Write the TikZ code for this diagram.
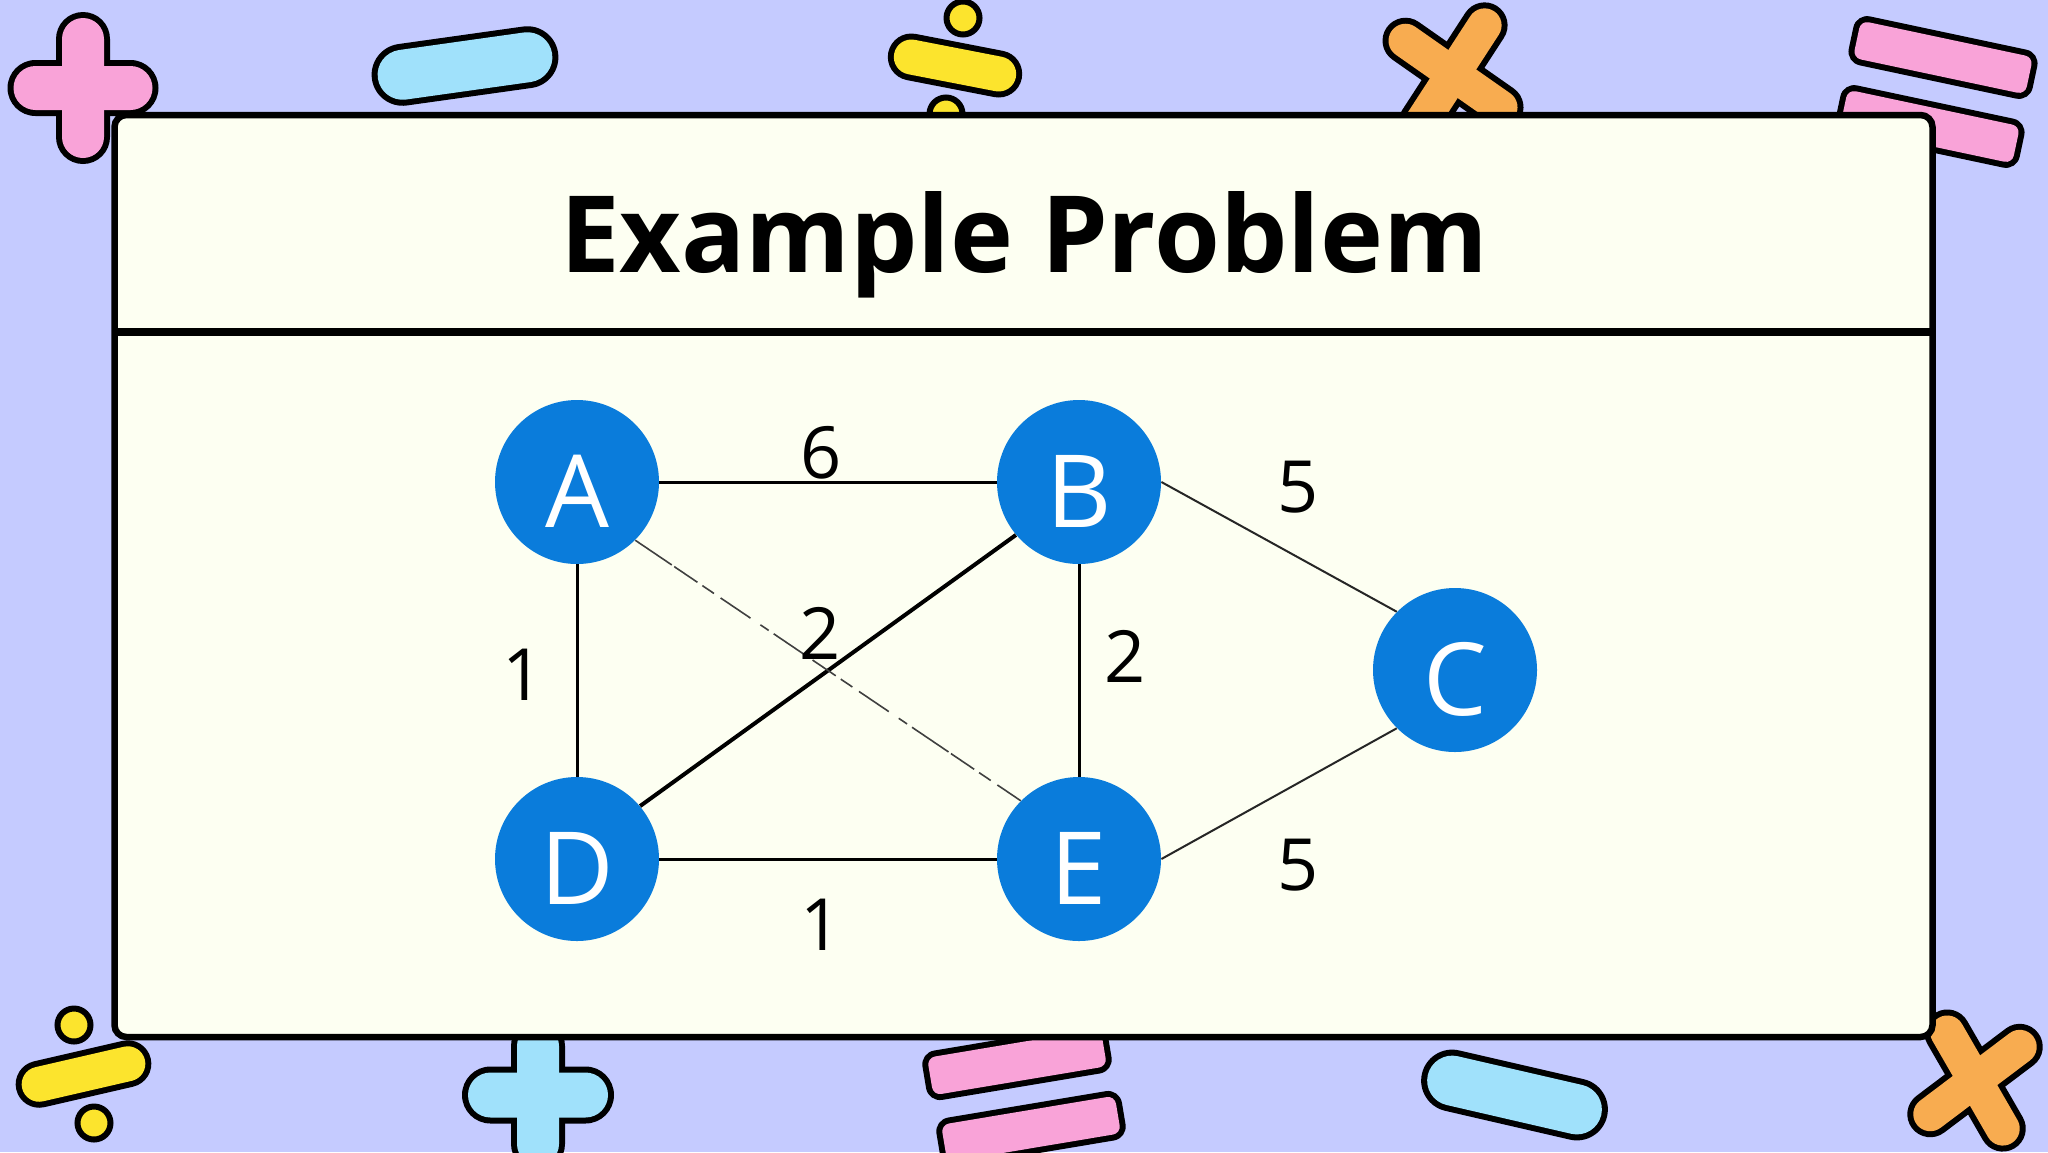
\documentclass[tikz,border=0pt]{standalone}
\usepackage{fontspec}
\setmainfont{Open Sans}
\definecolor{bgc}{HTML}{C5CBFF}
\definecolor{panelc}{HTML}{FDFFF2}
\definecolor{pinkc}{HTML}{F9A3D8}
\definecolor{skyc}{HTML}{A0E1FB}
\definecolor{yellowc}{HTML}{FCE42D}
\definecolor{orangec}{HTML}{F8AC50}
\definecolor{bluec}{HTML}{0A7CDB}
% outer silhouette (black) of a rounded bar: cx, cy, length, width, angle, radius
\newcommand\barblack[6]{\begin{scope}[shift={(#1,#2)},rotate=#5]
  \fill[black,rounded corners=#6*0.5pt] (-#3/2,-#4/2) rectangle (#3/2,#4/2);\end{scope}}
% inner fill of the same bar: colour comes last
\newcommand\barfill[7]{\begin{scope}[shift={(#1,#2)},rotate=#5]
  \fill[#7,rounded corners=(#6-6)*0.5pt] (-#3/2+6,-#4/2+6) rectangle (#3/2-6,#4/2-6);\end{scope}}
\newcommand\onebar[7]{\barblack{#1}{#2}{#3}{#4}{#5}{#6}\barfill{#1}{#2}{#3}{#4}{#5}{#6}{#7}}
% two crossing bars with a merged interior
\newcommand\crossbars[9]{% cx cy L1 W1 ang1 L2 W2 ang2 colour
  \barblack{#1}{#2}{#3}{#4}{#5}{#4/2}\barblack{#1}{#2}{#6}{#7}{#8}{#7/2}
  \barfill{#1}{#2}{#3}{#4}{#5}{#4/2}{#9}\barfill{#1}{#2}{#6}{#7}{#8}{#7/2}{#9}}
\tikzset{
  x=0.5pt,y=-0.5pt,
  dot/.style={draw=black,line width=3pt,fill=yellowc},
  vertex/.style={circle,fill=bluec,minimum size=82pt,inner sep=0pt,text=white,
    font=\fontsize{50.5pt}{50.5pt}\selectfont,text height=45pt,text depth=0pt},
  edge/.style={line width=1.5pt,black},
  thinedge/.style={line width=1pt,black!85},
  brokenedge/.style={line width=0.8pt,black!75,dash pattern=on 22pt off 1.5pt on 14pt off 3pt on 7pt off 4pt on 18pt off 6pt on 5pt off 3pt},
  weight/.style={font=\fontsize{36pt}{36pt}\selectfont,text=black,inner sep=0pt},
  panelbox/.style={draw=black,line width=3.25pt,fill=panelc,rounded corners=6pt},
}
\begin{document}
\begin{tikzpicture}
\useasboundingbox (0,0) rectangle (2048,1152);
\fill[bgc] (0,0) rectangle (2048,1152);
% decorations, top
\crossbars{83}{88}{152}{54}{90}{151}{56}{0}{pinkc}
\onebar{465}{66}{188}{62}{8}{31}{skyc}
\onebar{955}{65.5}{136}{47}{-11}{23.5}{yellowc}
\draw[dot] (963,18) circle[radius=16.5];
\draw[dot] (946,114) circle[radius=16.5];
\crossbars{1453}{74}{162}{46}{57}{162}{46}{-35}{orangec}
\onebar{1943}{57.5}{188}{50}{-12}{14}{pinkc}
\onebar{1930}{126.5}{188}{50}{-12}{14}{pinkc}
% decorations, bottom
\onebar{83.5}{1074}{138}{47}{13}{23.5}{yellowc}
\draw[dot] (74,1025) circle[radius=16.5];
\draw[dot] (94,1123) circle[radius=16.5];
\crossbars{538}{1095}{152}{54}{90}{152}{57}{0}{skyc}
\onebar{1017}{1062}{188}{50}{9.5}{14}{pinkc}
\onebar{1031}{1129}{188}{50}{9.5}{14}{pinkc}
\onebar{1514.5}{1095}{190}{62}{-13}{31}{skyc}
\crossbars{1975}{1080.5}{157}{46}{-60}{158}{46}{37}{orangec}
% panel
\draw[panelbox] (114.5,115) rectangle (1932.5,1037);
\coordinate (divl) at (114.5,332);
\coordinate (divr) at (1932.5,332);
\draw[line width=4pt,black] (divl) -- (divr);
\node[font=\bfseries\fontsize{53.3pt}{53.3pt}\selectfont,anchor=base,inner sep=0pt] (title) at (1024,272.5) {Example Problem};
% graph
\node[vertex] (A) at (577,482) {A};
\node[vertex] (B) at (1079,482) {B};
\node[vertex] (C) at (1455,670) {C};
\node[vertex] (D) at (577,859) {D};
\node[vertex] (E) at (1079,859) {E};
\draw[edge] (A) -- (B);
\draw[edge] (A) -- (D);
\draw[edge,line width=2pt] (B.220) -- (D.40);
\draw[edge] (B) -- (E);
\draw[edge] (D) -- (E);
\draw[brokenedge] (A.-45) -- (E.135);
\draw[thinedge] (B.east) -- (C.135);
\draw[thinedge] (E.east) -- (C.225);
\node[weight] (w1) at (821,453) {6};
\node[weight] (w2) at (820,633) {2};
\node[weight] (w3) at (1298,487) {5};
\node[weight] (w4) at (1125,656) {2};
\node[weight] (w5) at (523,675) {1};
\node[weight] (w6) at (1298,865) {5};
\node[weight] (w7) at (821,925) {1};
\end{tikzpicture}
\end{document}
